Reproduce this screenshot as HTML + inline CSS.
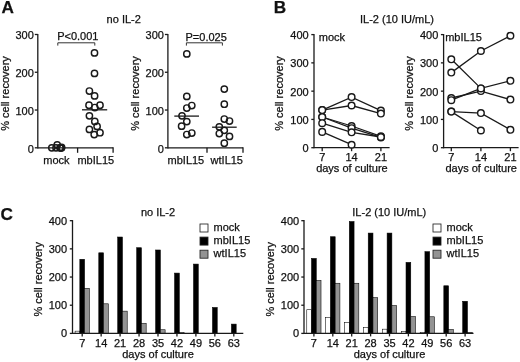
<!DOCTYPE html>
<html><head><meta charset="utf-8"><style>
html,body{margin:0;padding:0;background:#fff;}
body{width:520px;height:362px;overflow:hidden;}
svg{display:block;will-change:transform;font-family:"Liberation Sans",sans-serif;fill:#111;}
svg text{fill:#111;stroke:#111;stroke-width:0.25px;}
</style></head><body>
<svg width="520" height="362" viewBox="0 0 520 362">
<text x="1.50" y="13.00" text-anchor="start" font-size="17.2" font-weight="bold" >A</text>
<text x="273.80" y="13.00" text-anchor="start" font-size="17.2" font-weight="bold" >B</text>
<text x="0.50" y="220.00" text-anchor="start" font-size="17.2" font-weight="bold" >C</text>
<text x="106.60" y="23.00" text-anchor="start" font-size="11" font-weight="normal" >no IL-2</text>
<line x1="37.80" y1="33.89" x2="37.80" y2="148.40" stroke="#1a1a1a" stroke-width="1.3"/>
<line x1="34.80" y1="34.49" x2="37.80" y2="34.49" stroke="#1a1a1a" stroke-width="1.3"/>
<text x="33.80" y="39.19" text-anchor="end" font-size="11" font-weight="normal" >300</text>
<line x1="34.80" y1="72.26" x2="37.80" y2="72.26" stroke="#1a1a1a" stroke-width="1.3"/>
<text x="33.80" y="76.96" text-anchor="end" font-size="11" font-weight="normal" >200</text>
<line x1="34.80" y1="110.03" x2="37.80" y2="110.03" stroke="#1a1a1a" stroke-width="1.3"/>
<text x="33.80" y="114.73" text-anchor="end" font-size="11" font-weight="normal" >100</text>
<line x1="34.80" y1="147.80" x2="37.80" y2="147.80" stroke="#1a1a1a" stroke-width="1.3"/>
<text x="33.80" y="152.50" text-anchor="end" font-size="11" font-weight="normal" >0</text>
<line x1="37.80" y1="147.80" x2="113.10" y2="147.80" stroke="#1a1a1a" stroke-width="1.3"/>
<line x1="77.60" y1="147.80" x2="77.60" y2="152.80" stroke="#1a1a1a" stroke-width="1.3"/>
<line x1="113.10" y1="147.20" x2="113.10" y2="152.80" stroke="#1a1a1a" stroke-width="1.3"/>
<text x="56.40" y="163.70" text-anchor="middle" font-size="11" font-weight="normal" >mock</text>
<text x="95.80" y="163.70" text-anchor="middle" font-size="11" font-weight="normal" >mbIL15</text>
<text transform="translate(8.80,93.50) rotate(-90)" text-anchor="middle" font-size="11">% cell recovery</text>
<text x="57.20" y="40.20" text-anchor="start" font-size="11" font-weight="normal" >P&lt;0.001</text>
<path d="M57.8,45.6 V42.8 H94.8 V45.6" fill="none" stroke="#333" stroke-width="1"/>
<circle cx="51.80" cy="147.80" r="3.15" fill="none" stroke="#1a1a1a" stroke-width="1.45"/>
<circle cx="56.00" cy="147.80" r="3.15" fill="none" stroke="#1a1a1a" stroke-width="1.45"/>
<circle cx="57.20" cy="144.90" r="3.15" fill="none" stroke="#1a1a1a" stroke-width="1.45"/>
<circle cx="60.00" cy="147.80" r="3.15" fill="none" stroke="#1a1a1a" stroke-width="1.45"/>
<circle cx="60.80" cy="147.80" r="3.15" fill="none" stroke="#1a1a1a" stroke-width="1.45"/>
<circle cx="61.40" cy="147.80" r="3.15" fill="none" stroke="#1a1a1a" stroke-width="1.45"/>
<circle cx="61.60" cy="147.40" r="3.15" fill="none" stroke="#1a1a1a" stroke-width="1.45"/>
<circle cx="94.50" cy="52.90" r="3.15" fill="none" stroke="#1a1a1a" stroke-width="1.45"/>
<circle cx="94.50" cy="73.40" r="3.15" fill="none" stroke="#1a1a1a" stroke-width="1.45"/>
<circle cx="89.40" cy="91.00" r="3.15" fill="none" stroke="#1a1a1a" stroke-width="1.45"/>
<circle cx="94.60" cy="95.90" r="3.15" fill="none" stroke="#1a1a1a" stroke-width="1.45"/>
<circle cx="89.00" cy="105.20" r="3.15" fill="none" stroke="#1a1a1a" stroke-width="1.45"/>
<circle cx="94.80" cy="107.50" r="3.15" fill="none" stroke="#1a1a1a" stroke-width="1.45"/>
<circle cx="100.00" cy="105.20" r="3.15" fill="none" stroke="#1a1a1a" stroke-width="1.45"/>
<circle cx="89.40" cy="115.80" r="3.15" fill="none" stroke="#1a1a1a" stroke-width="1.45"/>
<circle cx="94.80" cy="121.40" r="3.15" fill="none" stroke="#1a1a1a" stroke-width="1.45"/>
<circle cx="97.10" cy="126.40" r="3.15" fill="none" stroke="#1a1a1a" stroke-width="1.45"/>
<circle cx="89.40" cy="129.40" r="3.15" fill="none" stroke="#1a1a1a" stroke-width="1.45"/>
<circle cx="100.00" cy="132.70" r="3.15" fill="none" stroke="#1a1a1a" stroke-width="1.45"/>
<circle cx="94.20" cy="134.60" r="3.15" fill="none" stroke="#1a1a1a" stroke-width="1.45"/>
<line x1="82.00" y1="109.80" x2="107.20" y2="109.80" stroke="#1a1a1a" stroke-width="1.3"/>
<line x1="167.90" y1="33.89" x2="167.90" y2="148.40" stroke="#1a1a1a" stroke-width="1.3"/>
<line x1="164.90" y1="34.49" x2="167.90" y2="34.49" stroke="#1a1a1a" stroke-width="1.3"/>
<text x="163.90" y="39.19" text-anchor="end" font-size="11" font-weight="normal" >300</text>
<line x1="164.90" y1="72.26" x2="167.90" y2="72.26" stroke="#1a1a1a" stroke-width="1.3"/>
<text x="163.90" y="76.96" text-anchor="end" font-size="11" font-weight="normal" >200</text>
<line x1="164.90" y1="110.03" x2="167.90" y2="110.03" stroke="#1a1a1a" stroke-width="1.3"/>
<text x="163.90" y="114.73" text-anchor="end" font-size="11" font-weight="normal" >100</text>
<line x1="164.90" y1="147.80" x2="167.90" y2="147.80" stroke="#1a1a1a" stroke-width="1.3"/>
<text x="163.90" y="152.50" text-anchor="end" font-size="11" font-weight="normal" >0</text>
<line x1="167.90" y1="147.80" x2="243.00" y2="147.80" stroke="#1a1a1a" stroke-width="1.3"/>
<line x1="207.00" y1="147.80" x2="207.00" y2="152.80" stroke="#1a1a1a" stroke-width="1.3"/>
<line x1="243.00" y1="147.20" x2="243.00" y2="152.80" stroke="#1a1a1a" stroke-width="1.3"/>
<text x="185.90" y="163.70" text-anchor="middle" font-size="11" font-weight="normal" >mbIL15</text>
<text x="226.80" y="163.70" text-anchor="middle" font-size="11" font-weight="normal" >wtIL15</text>
<text transform="translate(138.80,93.50) rotate(-90)" text-anchor="middle" font-size="11">% cell recovery</text>
<text x="185.50" y="40.60" text-anchor="start" font-size="11" font-weight="normal" >P=0.025</text>
<path d="M186.4,45.6 V42.8 H222.4 V45.6" fill="none" stroke="#333" stroke-width="1"/>
<circle cx="186.80" cy="53.90" r="3.15" fill="none" stroke="#1a1a1a" stroke-width="1.45"/>
<circle cx="186.80" cy="96.40" r="3.15" fill="none" stroke="#1a1a1a" stroke-width="1.45"/>
<circle cx="191.80" cy="105.50" r="3.15" fill="none" stroke="#1a1a1a" stroke-width="1.45"/>
<circle cx="186.80" cy="108.00" r="3.15" fill="none" stroke="#1a1a1a" stroke-width="1.45"/>
<circle cx="182.00" cy="115.80" r="3.15" fill="none" stroke="#1a1a1a" stroke-width="1.45"/>
<circle cx="186.80" cy="121.60" r="3.15" fill="none" stroke="#1a1a1a" stroke-width="1.45"/>
<circle cx="181.60" cy="126.20" r="3.15" fill="none" stroke="#1a1a1a" stroke-width="1.45"/>
<circle cx="186.80" cy="134.50" r="3.15" fill="none" stroke="#1a1a1a" stroke-width="1.45"/>
<circle cx="191.80" cy="133.00" r="3.15" fill="none" stroke="#1a1a1a" stroke-width="1.45"/>
<line x1="174.30" y1="116.10" x2="199.00" y2="116.10" stroke="#1a1a1a" stroke-width="1.3"/>
<circle cx="224.30" cy="89.10" r="3.15" fill="none" stroke="#1a1a1a" stroke-width="1.45"/>
<circle cx="224.30" cy="104.20" r="3.15" fill="none" stroke="#1a1a1a" stroke-width="1.45"/>
<circle cx="224.30" cy="119.00" r="3.15" fill="none" stroke="#1a1a1a" stroke-width="1.45"/>
<circle cx="229.50" cy="121.00" r="3.15" fill="none" stroke="#1a1a1a" stroke-width="1.45"/>
<circle cx="219.30" cy="126.80" r="3.15" fill="none" stroke="#1a1a1a" stroke-width="1.45"/>
<circle cx="224.30" cy="130.30" r="3.15" fill="none" stroke="#1a1a1a" stroke-width="1.45"/>
<circle cx="219.30" cy="133.50" r="3.15" fill="none" stroke="#1a1a1a" stroke-width="1.45"/>
<circle cx="229.50" cy="136.40" r="3.15" fill="none" stroke="#1a1a1a" stroke-width="1.45"/>
<circle cx="224.30" cy="143.20" r="3.15" fill="none" stroke="#1a1a1a" stroke-width="1.45"/>
<line x1="212.10" y1="127.20" x2="236.70" y2="127.20" stroke="#1a1a1a" stroke-width="1.3"/>
<text x="360.00" y="22.60" text-anchor="start" font-size="11" font-weight="normal" >IL-2 (10 IU/mL)</text>
<line x1="314.00" y1="34.00" x2="314.00" y2="148.30" stroke="#1a1a1a" stroke-width="1.3"/>
<line x1="311.30" y1="34.60" x2="314.00" y2="34.60" stroke="#1a1a1a" stroke-width="1.3"/>
<text x="308.70" y="39.10" text-anchor="end" font-size="11" font-weight="normal" >400</text>
<line x1="311.30" y1="62.87" x2="314.00" y2="62.87" stroke="#1a1a1a" stroke-width="1.3"/>
<text x="308.70" y="67.37" text-anchor="end" font-size="11" font-weight="normal" >300</text>
<line x1="311.30" y1="91.15" x2="314.00" y2="91.15" stroke="#1a1a1a" stroke-width="1.3"/>
<text x="308.70" y="95.65" text-anchor="end" font-size="11" font-weight="normal" >200</text>
<line x1="311.30" y1="119.42" x2="314.00" y2="119.42" stroke="#1a1a1a" stroke-width="1.3"/>
<text x="308.70" y="123.92" text-anchor="end" font-size="11" font-weight="normal" >100</text>
<line x1="311.30" y1="147.70" x2="314.00" y2="147.70" stroke="#1a1a1a" stroke-width="1.3"/>
<text x="308.70" y="152.20" text-anchor="end" font-size="11" font-weight="normal" >0</text>
<line x1="314.00" y1="147.70" x2="389.60" y2="147.70" stroke="#1a1a1a" stroke-width="1.3"/>
<line x1="322.20" y1="147.70" x2="322.20" y2="151.20" stroke="#1a1a1a" stroke-width="1.3"/>
<text x="322.20" y="161.20" text-anchor="middle" font-size="11" font-weight="normal" >7</text>
<line x1="351.60" y1="147.70" x2="351.60" y2="151.20" stroke="#1a1a1a" stroke-width="1.3"/>
<text x="351.60" y="161.20" text-anchor="middle" font-size="11" font-weight="normal" >14</text>
<line x1="380.90" y1="147.70" x2="380.90" y2="151.20" stroke="#1a1a1a" stroke-width="1.3"/>
<text x="380.90" y="161.20" text-anchor="middle" font-size="11" font-weight="normal" >21</text>
<text x="351.90" y="172.00" text-anchor="middle" font-size="11" font-weight="normal" >days of culture</text>
<text x="318.80" y="41.00" text-anchor="start" font-size="11" font-weight="normal" >mock</text>
<text transform="translate(283.00,93.50) rotate(-90)" text-anchor="middle" font-size="11">% cell recovery</text>
<polyline points="322.20,110.10 351.60,97.10 380.90,110.60" fill="none" stroke="#1a1a1a" stroke-width="1.3"/>
<polyline points="322.20,110.10 351.60,105.50 380.90,113.60" fill="none" stroke="#1a1a1a" stroke-width="1.3"/>
<polyline points="322.20,117.00 351.60,126.00 380.90,136.40" fill="none" stroke="#1a1a1a" stroke-width="1.3"/>
<polyline points="322.20,117.00 351.60,128.20 380.90,137.40" fill="none" stroke="#1a1a1a" stroke-width="1.3"/>
<polyline points="322.20,123.20 351.60,132.30 380.90,137.00" fill="none" stroke="#1a1a1a" stroke-width="1.3"/>
<polyline points="322.20,131.90 351.60,144.70" fill="none" stroke="#1a1a1a" stroke-width="1.3"/>
<circle cx="322.20" cy="110.10" r="3.3" fill="#fff" stroke="#1a1a1a" stroke-width="1.45"/>
<circle cx="351.60" cy="97.10" r="3.3" fill="#fff" stroke="#1a1a1a" stroke-width="1.45"/>
<circle cx="380.90" cy="110.60" r="3.3" fill="#fff" stroke="#1a1a1a" stroke-width="1.45"/>
<circle cx="322.20" cy="110.10" r="3.3" fill="#fff" stroke="#1a1a1a" stroke-width="1.45"/>
<circle cx="351.60" cy="105.50" r="3.3" fill="#fff" stroke="#1a1a1a" stroke-width="1.45"/>
<circle cx="380.90" cy="113.60" r="3.3" fill="#fff" stroke="#1a1a1a" stroke-width="1.45"/>
<circle cx="322.20" cy="117.00" r="3.3" fill="#fff" stroke="#1a1a1a" stroke-width="1.45"/>
<circle cx="351.60" cy="126.00" r="3.3" fill="#fff" stroke="#1a1a1a" stroke-width="1.45"/>
<circle cx="380.90" cy="136.40" r="3.3" fill="#fff" stroke="#1a1a1a" stroke-width="1.45"/>
<circle cx="322.20" cy="117.00" r="3.3" fill="#fff" stroke="#1a1a1a" stroke-width="1.45"/>
<circle cx="351.60" cy="128.20" r="3.3" fill="#fff" stroke="#1a1a1a" stroke-width="1.45"/>
<circle cx="380.90" cy="137.40" r="3.3" fill="#fff" stroke="#1a1a1a" stroke-width="1.45"/>
<circle cx="322.20" cy="123.20" r="3.3" fill="#fff" stroke="#1a1a1a" stroke-width="1.45"/>
<circle cx="351.60" cy="132.30" r="3.3" fill="#fff" stroke="#1a1a1a" stroke-width="1.45"/>
<circle cx="380.90" cy="137.00" r="3.3" fill="#fff" stroke="#1a1a1a" stroke-width="1.45"/>
<circle cx="322.20" cy="131.90" r="3.3" fill="#fff" stroke="#1a1a1a" stroke-width="1.45"/>
<circle cx="351.60" cy="144.70" r="3.3" fill="#fff" stroke="#1a1a1a" stroke-width="1.45"/>
<line x1="443.60" y1="34.00" x2="443.60" y2="148.30" stroke="#1a1a1a" stroke-width="1.3"/>
<line x1="440.90" y1="34.60" x2="443.60" y2="34.60" stroke="#1a1a1a" stroke-width="1.3"/>
<text x="438.30" y="39.10" text-anchor="end" font-size="11" font-weight="normal" >400</text>
<line x1="440.90" y1="62.87" x2="443.60" y2="62.87" stroke="#1a1a1a" stroke-width="1.3"/>
<text x="438.30" y="67.37" text-anchor="end" font-size="11" font-weight="normal" >300</text>
<line x1="440.90" y1="91.15" x2="443.60" y2="91.15" stroke="#1a1a1a" stroke-width="1.3"/>
<text x="438.30" y="95.65" text-anchor="end" font-size="11" font-weight="normal" >200</text>
<line x1="440.90" y1="119.42" x2="443.60" y2="119.42" stroke="#1a1a1a" stroke-width="1.3"/>
<text x="438.30" y="123.92" text-anchor="end" font-size="11" font-weight="normal" >100</text>
<line x1="440.90" y1="147.70" x2="443.60" y2="147.70" stroke="#1a1a1a" stroke-width="1.3"/>
<text x="438.30" y="152.20" text-anchor="end" font-size="11" font-weight="normal" >0</text>
<line x1="443.60" y1="147.70" x2="518.60" y2="147.70" stroke="#1a1a1a" stroke-width="1.3"/>
<line x1="451.30" y1="147.70" x2="451.30" y2="151.20" stroke="#1a1a1a" stroke-width="1.3"/>
<text x="451.30" y="161.20" text-anchor="middle" font-size="11" font-weight="normal" >7</text>
<line x1="480.90" y1="147.70" x2="480.90" y2="151.20" stroke="#1a1a1a" stroke-width="1.3"/>
<text x="480.90" y="161.20" text-anchor="middle" font-size="11" font-weight="normal" >14</text>
<line x1="510.40" y1="147.70" x2="510.40" y2="151.20" stroke="#1a1a1a" stroke-width="1.3"/>
<text x="510.40" y="161.20" text-anchor="middle" font-size="11" font-weight="normal" >21</text>
<text x="481.20" y="172.00" text-anchor="middle" font-size="11" font-weight="normal" >days of culture</text>
<text x="445.20" y="41.00" text-anchor="start" font-size="11" font-weight="normal" >mbIL15</text>
<text transform="translate(413.40,93.50) rotate(-90)" text-anchor="middle" font-size="11">% cell recovery</text>
<polyline points="451.30,72.60 480.90,51.00 510.40,35.70" fill="none" stroke="#1a1a1a" stroke-width="1.3"/>
<polyline points="451.30,59.30 480.90,88.40 510.40,80.80" fill="none" stroke="#1a1a1a" stroke-width="1.3"/>
<polyline points="451.30,98.00 480.90,91.10 510.40,99.60" fill="none" stroke="#1a1a1a" stroke-width="1.3"/>
<polyline points="451.30,100.20 480.90,88.40" fill="none" stroke="#1a1a1a" stroke-width="1.3"/>
<polyline points="451.30,111.60 480.90,113.10 510.40,129.80" fill="none" stroke="#1a1a1a" stroke-width="1.3"/>
<polyline points="451.30,111.60 480.90,130.50" fill="none" stroke="#1a1a1a" stroke-width="1.3"/>
<circle cx="451.30" cy="72.60" r="3.3" fill="#fff" stroke="#1a1a1a" stroke-width="1.45"/>
<circle cx="480.90" cy="51.00" r="3.3" fill="#fff" stroke="#1a1a1a" stroke-width="1.45"/>
<circle cx="510.40" cy="35.70" r="3.3" fill="#fff" stroke="#1a1a1a" stroke-width="1.45"/>
<circle cx="451.30" cy="59.30" r="3.3" fill="#fff" stroke="#1a1a1a" stroke-width="1.45"/>
<circle cx="480.90" cy="88.40" r="3.3" fill="#fff" stroke="#1a1a1a" stroke-width="1.45"/>
<circle cx="510.40" cy="80.80" r="3.3" fill="#fff" stroke="#1a1a1a" stroke-width="1.45"/>
<circle cx="451.30" cy="98.00" r="3.3" fill="#fff" stroke="#1a1a1a" stroke-width="1.45"/>
<circle cx="480.90" cy="91.10" r="3.3" fill="#fff" stroke="#1a1a1a" stroke-width="1.45"/>
<circle cx="510.40" cy="99.60" r="3.3" fill="#fff" stroke="#1a1a1a" stroke-width="1.45"/>
<circle cx="451.30" cy="100.20" r="3.3" fill="#fff" stroke="#1a1a1a" stroke-width="1.45"/>
<circle cx="480.90" cy="88.40" r="3.3" fill="#fff" stroke="#1a1a1a" stroke-width="1.45"/>
<circle cx="451.30" cy="111.60" r="3.3" fill="#fff" stroke="#1a1a1a" stroke-width="1.45"/>
<circle cx="480.90" cy="113.10" r="3.3" fill="#fff" stroke="#1a1a1a" stroke-width="1.45"/>
<circle cx="510.40" cy="129.80" r="3.3" fill="#fff" stroke="#1a1a1a" stroke-width="1.45"/>
<circle cx="451.30" cy="111.60" r="3.3" fill="#fff" stroke="#1a1a1a" stroke-width="1.45"/>
<circle cx="480.90" cy="130.50" r="3.3" fill="#fff" stroke="#1a1a1a" stroke-width="1.45"/>
<rect x="75.08" y="331.15" width="4.75" height="2.25" fill="#fff" stroke="#000" stroke-width="0.55"/>
<rect x="79.83" y="259.29" width="4.75" height="74.11" fill="#000" stroke="#000" stroke-width="0.55"/>
<rect x="84.58" y="288.31" width="4.75" height="45.09" fill="#939393" stroke="#000" stroke-width="0.55"/>
<rect x="98.78" y="252.81" width="4.75" height="80.59" fill="#000" stroke="#000" stroke-width="0.55"/>
<rect x="103.53" y="303.81" width="4.75" height="29.59" fill="#939393" stroke="#000" stroke-width="0.55"/>
<rect x="117.72" y="237.02" width="4.75" height="96.38" fill="#000" stroke="#000" stroke-width="0.55"/>
<rect x="122.47" y="311.14" width="4.75" height="22.26" fill="#939393" stroke="#000" stroke-width="0.55"/>
<rect x="136.68" y="247.73" width="4.75" height="85.67" fill="#000" stroke="#000" stroke-width="0.55"/>
<rect x="141.43" y="323.26" width="4.75" height="10.14" fill="#939393" stroke="#000" stroke-width="0.55"/>
<rect x="155.62" y="249.99" width="4.75" height="83.41" fill="#000" stroke="#000" stroke-width="0.55"/>
<rect x="160.38" y="329.74" width="4.75" height="3.66" fill="#939393" stroke="#000" stroke-width="0.55"/>
<rect x="174.57" y="273.09" width="4.75" height="60.31" fill="#000" stroke="#000" stroke-width="0.55"/>
<rect x="179.32" y="332.55" width="4.75" height="0.85" fill="#939393" stroke="#000" stroke-width="0.55"/>
<rect x="193.52" y="264.08" width="4.75" height="69.32" fill="#000" stroke="#000" stroke-width="0.55"/>
<rect x="212.48" y="307.47" width="4.75" height="25.93" fill="#000" stroke="#000" stroke-width="0.55"/>
<rect x="231.43" y="324.10" width="4.75" height="9.30" fill="#000" stroke="#000" stroke-width="0.55"/>
<line x1="72.50" y1="220.08" x2="72.50" y2="334.00" stroke="#1a1a1a" stroke-width="1.3"/>
<line x1="69.80" y1="220.68" x2="72.50" y2="220.68" stroke="#1a1a1a" stroke-width="1.3"/>
<text x="67.10" y="224.68" text-anchor="end" font-size="11" font-weight="normal" >400</text>
<line x1="69.80" y1="248.86" x2="72.50" y2="248.86" stroke="#1a1a1a" stroke-width="1.3"/>
<text x="67.10" y="252.86" text-anchor="end" font-size="11" font-weight="normal" >300</text>
<line x1="69.80" y1="277.04" x2="72.50" y2="277.04" stroke="#1a1a1a" stroke-width="1.3"/>
<text x="67.10" y="281.04" text-anchor="end" font-size="11" font-weight="normal" >200</text>
<line x1="69.80" y1="305.22" x2="72.50" y2="305.22" stroke="#1a1a1a" stroke-width="1.3"/>
<text x="67.10" y="309.22" text-anchor="end" font-size="11" font-weight="normal" >100</text>
<line x1="69.80" y1="333.40" x2="72.50" y2="333.40" stroke="#1a1a1a" stroke-width="1.3"/>
<text x="67.10" y="337.40" text-anchor="end" font-size="11" font-weight="normal" >0</text>
<line x1="72.50" y1="333.40" x2="243.30" y2="333.40" stroke="#1a1a1a" stroke-width="1.3"/>
<line x1="82.20" y1="333.40" x2="82.20" y2="336.40" stroke="#1a1a1a" stroke-width="1.3"/>
<text x="82.20" y="346.90" text-anchor="middle" font-size="11" font-weight="normal" >7</text>
<line x1="101.15" y1="333.40" x2="101.15" y2="336.40" stroke="#1a1a1a" stroke-width="1.3"/>
<text x="101.15" y="346.90" text-anchor="middle" font-size="11" font-weight="normal" >14</text>
<line x1="120.10" y1="333.40" x2="120.10" y2="336.40" stroke="#1a1a1a" stroke-width="1.3"/>
<text x="120.10" y="346.90" text-anchor="middle" font-size="11" font-weight="normal" >21</text>
<line x1="139.05" y1="333.40" x2="139.05" y2="336.40" stroke="#1a1a1a" stroke-width="1.3"/>
<text x="139.05" y="346.90" text-anchor="middle" font-size="11" font-weight="normal" >28</text>
<line x1="158.00" y1="333.40" x2="158.00" y2="336.40" stroke="#1a1a1a" stroke-width="1.3"/>
<text x="158.00" y="346.90" text-anchor="middle" font-size="11" font-weight="normal" >35</text>
<line x1="176.95" y1="333.40" x2="176.95" y2="336.40" stroke="#1a1a1a" stroke-width="1.3"/>
<text x="176.95" y="346.90" text-anchor="middle" font-size="11" font-weight="normal" >42</text>
<line x1="195.90" y1="333.40" x2="195.90" y2="336.40" stroke="#1a1a1a" stroke-width="1.3"/>
<text x="195.90" y="346.90" text-anchor="middle" font-size="11" font-weight="normal" >49</text>
<line x1="214.85" y1="333.40" x2="214.85" y2="336.40" stroke="#1a1a1a" stroke-width="1.3"/>
<text x="214.85" y="346.90" text-anchor="middle" font-size="11" font-weight="normal" >56</text>
<line x1="233.80" y1="333.40" x2="233.80" y2="336.40" stroke="#1a1a1a" stroke-width="1.3"/>
<text x="233.80" y="346.90" text-anchor="middle" font-size="11" font-weight="normal" >63</text>
<text x="158.00" y="358.20" text-anchor="middle" font-size="11" font-weight="normal" >days of culture</text>
<text x="140.90" y="215.90" text-anchor="start" font-size="11" font-weight="normal" >no IL-2</text>
<text transform="translate(41.50,279.30) rotate(-90)" text-anchor="middle" font-size="11">% cell recovery</text>
<rect x="200.00" y="224.00" width="8" height="8" fill="#fff" stroke="#222" stroke-width="0.85"/>
<text x="213.60" y="230.50" text-anchor="start" font-size="11" font-weight="normal" >mock</text>
<rect x="200.00" y="237.10" width="8" height="8" fill="#000" stroke="#222" stroke-width="0.85"/>
<text x="213.60" y="243.60" text-anchor="start" font-size="11" font-weight="normal" >mbIL15</text>
<rect x="200.00" y="250.20" width="8" height="8" fill="#939393" stroke="#222" stroke-width="0.85"/>
<text x="213.60" y="256.70" text-anchor="start" font-size="11" font-weight="normal" >wtIL15</text>
<rect x="306.77" y="309.73" width="4.75" height="23.67" fill="#fff" stroke="#000" stroke-width="0.55"/>
<rect x="311.52" y="258.44" width="4.75" height="74.96" fill="#000" stroke="#000" stroke-width="0.55"/>
<rect x="316.27" y="280.42" width="4.75" height="52.98" fill="#939393" stroke="#000" stroke-width="0.55"/>
<rect x="325.67" y="317.34" width="4.75" height="16.06" fill="#fff" stroke="#000" stroke-width="0.55"/>
<rect x="330.42" y="236.74" width="4.75" height="96.66" fill="#000" stroke="#000" stroke-width="0.55"/>
<rect x="335.17" y="283.24" width="4.75" height="50.16" fill="#939393" stroke="#000" stroke-width="0.55"/>
<rect x="344.57" y="322.41" width="4.75" height="10.99" fill="#fff" stroke="#000" stroke-width="0.55"/>
<rect x="349.32" y="221.53" width="4.75" height="111.87" fill="#000" stroke="#000" stroke-width="0.55"/>
<rect x="354.07" y="283.24" width="4.75" height="50.16" fill="#939393" stroke="#000" stroke-width="0.55"/>
<rect x="363.47" y="327.48" width="4.75" height="5.92" fill="#fff" stroke="#000" stroke-width="0.55"/>
<rect x="368.22" y="233.08" width="4.75" height="100.32" fill="#000" stroke="#000" stroke-width="0.55"/>
<rect x="372.97" y="297.61" width="4.75" height="35.79" fill="#939393" stroke="#000" stroke-width="0.55"/>
<rect x="382.38" y="329.17" width="4.75" height="4.23" fill="#fff" stroke="#000" stroke-width="0.55"/>
<rect x="387.12" y="233.08" width="4.75" height="100.32" fill="#000" stroke="#000" stroke-width="0.55"/>
<rect x="391.88" y="305.50" width="4.75" height="27.90" fill="#939393" stroke="#000" stroke-width="0.55"/>
<rect x="401.27" y="331.43" width="4.75" height="1.97" fill="#fff" stroke="#000" stroke-width="0.55"/>
<rect x="406.02" y="262.39" width="4.75" height="71.01" fill="#000" stroke="#000" stroke-width="0.55"/>
<rect x="410.77" y="316.49" width="4.75" height="16.91" fill="#939393" stroke="#000" stroke-width="0.55"/>
<rect x="420.17" y="332.27" width="4.75" height="1.13" fill="#fff" stroke="#000" stroke-width="0.55"/>
<rect x="424.92" y="251.68" width="4.75" height="81.72" fill="#000" stroke="#000" stroke-width="0.55"/>
<rect x="429.67" y="316.77" width="4.75" height="16.63" fill="#939393" stroke="#000" stroke-width="0.55"/>
<rect x="443.82" y="285.78" width="4.75" height="47.62" fill="#000" stroke="#000" stroke-width="0.55"/>
<rect x="448.57" y="329.45" width="4.75" height="3.95" fill="#939393" stroke="#000" stroke-width="0.55"/>
<rect x="462.72" y="301.27" width="4.75" height="32.13" fill="#000" stroke="#000" stroke-width="0.55"/>
<rect x="467.47" y="332.27" width="4.75" height="1.13" fill="#939393" stroke="#000" stroke-width="0.55"/>
<line x1="304.00" y1="220.08" x2="304.00" y2="334.00" stroke="#1a1a1a" stroke-width="1.3"/>
<line x1="301.30" y1="220.68" x2="304.00" y2="220.68" stroke="#1a1a1a" stroke-width="1.3"/>
<text x="299.20" y="224.68" text-anchor="end" font-size="11" font-weight="normal" >400</text>
<line x1="301.30" y1="248.86" x2="304.00" y2="248.86" stroke="#1a1a1a" stroke-width="1.3"/>
<text x="299.20" y="252.86" text-anchor="end" font-size="11" font-weight="normal" >300</text>
<line x1="301.30" y1="277.04" x2="304.00" y2="277.04" stroke="#1a1a1a" stroke-width="1.3"/>
<text x="299.20" y="281.04" text-anchor="end" font-size="11" font-weight="normal" >200</text>
<line x1="301.30" y1="305.22" x2="304.00" y2="305.22" stroke="#1a1a1a" stroke-width="1.3"/>
<text x="299.20" y="309.22" text-anchor="end" font-size="11" font-weight="normal" >100</text>
<line x1="301.30" y1="333.40" x2="304.00" y2="333.40" stroke="#1a1a1a" stroke-width="1.3"/>
<text x="299.20" y="337.40" text-anchor="end" font-size="11" font-weight="normal" >0</text>
<line x1="304.00" y1="333.40" x2="473.50" y2="333.40" stroke="#1a1a1a" stroke-width="1.3"/>
<line x1="313.90" y1="333.40" x2="313.90" y2="336.40" stroke="#1a1a1a" stroke-width="1.3"/>
<text x="313.90" y="346.90" text-anchor="middle" font-size="11" font-weight="normal" >7</text>
<line x1="332.80" y1="333.40" x2="332.80" y2="336.40" stroke="#1a1a1a" stroke-width="1.3"/>
<text x="332.80" y="346.90" text-anchor="middle" font-size="11" font-weight="normal" >14</text>
<line x1="351.70" y1="333.40" x2="351.70" y2="336.40" stroke="#1a1a1a" stroke-width="1.3"/>
<text x="351.70" y="346.90" text-anchor="middle" font-size="11" font-weight="normal" >21</text>
<line x1="370.60" y1="333.40" x2="370.60" y2="336.40" stroke="#1a1a1a" stroke-width="1.3"/>
<text x="370.60" y="346.90" text-anchor="middle" font-size="11" font-weight="normal" >28</text>
<line x1="389.50" y1="333.40" x2="389.50" y2="336.40" stroke="#1a1a1a" stroke-width="1.3"/>
<text x="389.50" y="346.90" text-anchor="middle" font-size="11" font-weight="normal" >35</text>
<line x1="408.40" y1="333.40" x2="408.40" y2="336.40" stroke="#1a1a1a" stroke-width="1.3"/>
<text x="408.40" y="346.90" text-anchor="middle" font-size="11" font-weight="normal" >42</text>
<line x1="427.30" y1="333.40" x2="427.30" y2="336.40" stroke="#1a1a1a" stroke-width="1.3"/>
<text x="427.30" y="346.90" text-anchor="middle" font-size="11" font-weight="normal" >49</text>
<line x1="446.20" y1="333.40" x2="446.20" y2="336.40" stroke="#1a1a1a" stroke-width="1.3"/>
<text x="446.20" y="346.90" text-anchor="middle" font-size="11" font-weight="normal" >56</text>
<line x1="465.10" y1="333.40" x2="465.10" y2="336.40" stroke="#1a1a1a" stroke-width="1.3"/>
<text x="465.10" y="346.90" text-anchor="middle" font-size="11" font-weight="normal" >63</text>
<text x="389.50" y="358.20" text-anchor="middle" font-size="11" font-weight="normal" >days of culture</text>
<text x="352.30" y="215.90" text-anchor="start" font-size="11" font-weight="normal" >IL-2 (10 IU/mL)</text>
<text transform="translate(273.90,279.30) rotate(-90)" text-anchor="middle" font-size="11">% cell recovery</text>
<rect x="433.00" y="224.00" width="8" height="8" fill="#fff" stroke="#222" stroke-width="0.85"/>
<text x="446.60" y="230.50" text-anchor="start" font-size="11" font-weight="normal" >mock</text>
<rect x="433.00" y="237.10" width="8" height="8" fill="#000" stroke="#222" stroke-width="0.85"/>
<text x="446.60" y="243.60" text-anchor="start" font-size="11" font-weight="normal" >mbIL15</text>
<rect x="433.00" y="250.20" width="8" height="8" fill="#939393" stroke="#222" stroke-width="0.85"/>
<text x="446.60" y="256.70" text-anchor="start" font-size="11" font-weight="normal" >wtIL15</text>
</svg>
</body></html>
